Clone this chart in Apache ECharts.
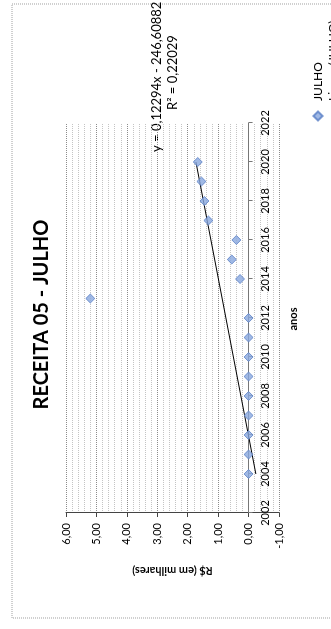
<!DOCTYPE html>
<html>
<head>
<meta charset="utf-8">
<script src="https://cdn.jsdelivr.net/npm/echarts@6/dist/echarts.min.js"></script>
<style>
  html, body { margin: 0; padding: 0; background: #fff; width: 331px; height: 629px; overflow: hidden; }
  #chart {
    position: absolute; left: 0; top: 0;
    width: 629px; height: 331px;
    transform-origin: 0 0;
    transform: translate(0px, 629px) rotate(-90deg);
  }
</style>
</head>
<body>
<div id="chart"></div>
<script>
// ---- data ----
const titleText = 'RECEITA 05 - JULHO';
const seriesName = 'JULHO';
const trendName = 'Linear (JULHO)';
const years = [2004, 2005, 2006, 2007, 2008, 2009, 2010, 2011, 2012, 2013, 2014, 2015, 2016, 2017, 2018, 2019, 2020];
const julho = [0, 0, 0, 0, 0, 0, 0, 0, 0, 5.20, 0.28, 0.55, 0.40, 1.32, 1.45, 1.55, 1.67];
const trendYears = [2004, 2020];
const trendValues = [-0.24, 1.73];
const equationLines = ['y = 0,12294x - 246,60882', 'R² = 0,22029'];
const yearTicks = [2002, 2004, 2006, 2008, 2010, 2012, 2014, 2016, 2018, 2020, 2022];
const valueTicks = [-1, 0, 1, 2, 3, 4, 5, 6];
const xAxisName = 'anos';
const yAxisName = 'R$ (em milhares)';

const FONT = 'Lato, "Liberation Sans", sans-serif';
const GRID = { left: 116, right: 123, top: 66, bottom: 52 };
const CH = 331;
// place the year axis where the value axis crosses 0 (as in the original)
const vMin = valueTicks[0], vMax = valueTicks[valueTicks.length - 1];
const gridH = CH - GRID.top - GRID.bottom;
const zeroOffset = -gridH * (0 - vMin) / (vMax - vMin);

const chart = echarts.init(document.getElementById('chart'), null, { renderer: 'canvas' });

chart.setOption({
  backgroundColor: '#fff',
  animation: false,
  title: {
    text: titleText, left: 'center', top: 27,
    textStyle: { fontFamily: FONT, fontSize: 20, fontWeight: 'bold', color: '#000' }
  },
  legend: {
    orient: 'vertical', left: 497, top: 307, height: 80, itemGap: 3,
    itemWidth: 20, itemHeight: 9, symbolKeepAspect: true,
    textStyle: { fontFamily: FONT, fontSize: 12, color: '#000' },
    data: [
      { name: seriesName, icon: 'path://M5,0 L10,5 L5,10 L0,5 Z' },
      { name: trendName }
    ]
  },
  grid: Object.assign({ containLabel: false }, GRID),
  xAxis: {
    type: 'value',
    min: yearTicks[0], max: yearTicks[yearTicks.length - 1], interval: 2,
    offset: zeroOffset,
    axisLine: { onZero: false, lineStyle: { color: '#777', width: 1 } },
    axisTick: { show: true, inside: false, length: 4, lineStyle: { color: '#777' } },
    axisLabel: { fontFamily: FONT, fontSize: 11, color: '#000', margin: 11,
      formatter: v => yearTicks.includes(v) ? String(v) : '' },
    splitLine: { show: false }
  },
  yAxis: {
    type: 'value',
    min: vMin, max: vMax, interval: 1,
    name: yAxisName, nameLocation: 'middle', nameGap: 52, nameRotate: 90,
    nameTextStyle: { fontFamily: FONT, fontSize: 11, fontWeight: 'bold', color: '#000' },
    axisLine: { show: true, onZero: false, lineStyle: { color: '#444', width: 1 } },
    axisTick: { show: true, inside: false, length: 4, lineStyle: { color: '#444' } },
    axisLabel: { fontFamily: FONT, fontSize: 11, color: '#000', margin: 10,
      formatter: v => v.toFixed(2).replace('.', ',') },
    splitLine: { show: true, lineStyle: { color: '#8c8c8c', type: [1, 1], width: 1 } },
    minorTick: { show: false, splitNumber: 5 },
    minorSplitLine: { show: true, lineStyle: { color: '#c4c4c4', type: [1, 1], width: 1 } }
  },
  graphic: [
    { type: 'rect', silent: true, z: -1,
      shape: { x: 11, y: 12, width: 614, height: 400 },
      style: { fill: 'none', stroke: '#a0a0a0', lineWidth: 1, lineDash: [1, 1] } },
    { type: 'text', x: 310, y: 293,
      style: { text: xAxisName, fontFamily: FONT, fontSize: 11, fontWeight: 'bold', fill: '#000',
        align: 'center', verticalAlign: 'middle' } },
    { type: 'text', left: 477, top: 150,
      style: { text: equationLines[0], fontFamily: FONT, fontSize: 13, fill: '#000' } },
    { type: 'text', left: 519, top: 166,
      style: { text: equationLines[1], fontFamily: FONT, fontSize: 13, fill: '#000' } }
  ],
  series: [
    {
      name: seriesName, type: 'scatter', symbol: 'diamond', symbolSize: 9,
      itemStyle: { color: '#88a8de', borderColor: '#5a7fc6', borderWidth: 1 },
      data: years.map((y, i) => [y, julho[i]]), z: 3
    },
    {
      name: trendName, type: 'line', symbol: 'none', showSymbol: false,
      lineStyle: { color: '#000', width: 1 }, itemStyle: { color: 'rgba(0,0,0,0)' },
      data: trendYears.map((y, i) => [y, trendValues[i]]), z: 2
    }
  ]
});
</script>
</body>
</html>
